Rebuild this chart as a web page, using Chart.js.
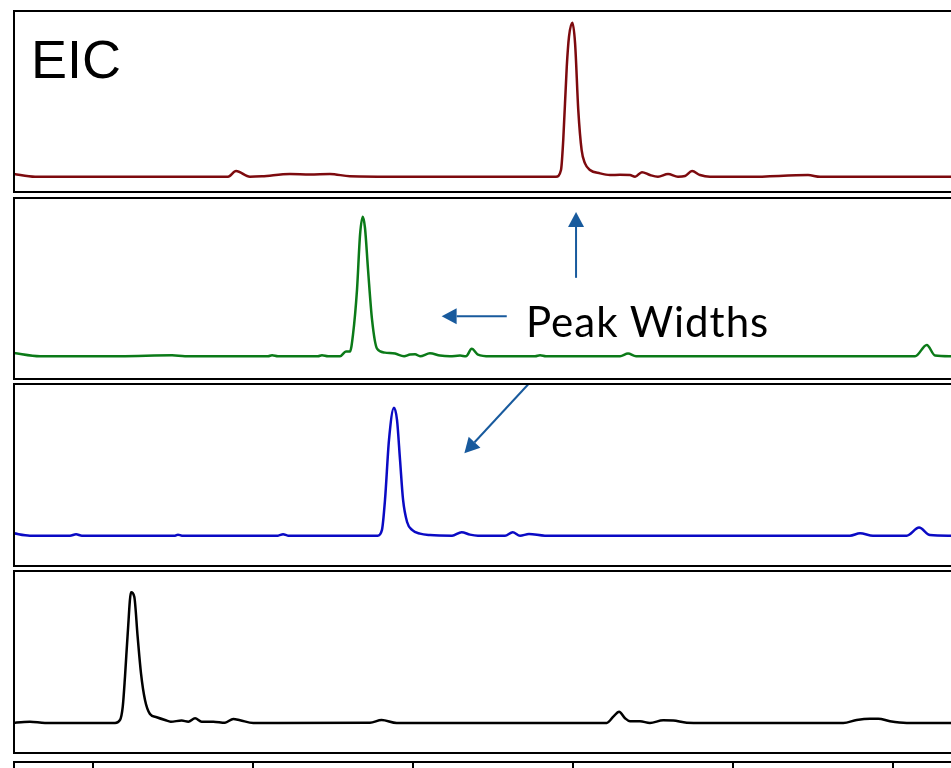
<!DOCTYPE html>
<html>
<head>
<meta charset="utf-8">
<script src="https://cdn.jsdelivr.net/npm/chart.js@4.4.0/dist/chart.umd.min.js"></script>
<style>
  html, body { margin: 0; padding: 0; background: #fff; overflow: hidden; }
  body { width: 951px; height: 768px; position: relative; }
  .panel { position: absolute; left: 10px; }
  .label { position: absolute; white-space: nowrap; line-height: 1; color: #000; }
  #eicLabel { left: 31px; top: 28px; font: 54px "Liberation Sans", Arial, sans-serif; }
  #widthLabel { left: 526px; top: 296px; font: 42px Lato, "Open Sans", sans-serif; letter-spacing: 1px; }
</style>
</head>
<body>
<div class="panel" style="top:7px"><canvas id="eic1" width="945" height="189"></canvas></div>
<div class="panel" style="top:194px"><canvas id="eic2" width="945" height="189"></canvas></div>
<div class="panel" style="top:380px"><canvas id="eic3" width="945" height="190"></canvas></div>
<div class="panel" style="top:567px"><canvas id="eic4" width="945" height="190"></canvas></div>
<div class="panel" style="top:758px"><canvas id="rtAxis" width="945" height="14"></canvas></div>
<div class="label" id="eicLabel">EIC</div>
<div class="label" id="widthLabel">Peak Widths</div>

<script>
// retention time window (min) and tick positions
const rtMin = 0.50625;
const rtMax = 6.3625;
const rtTicks = [1, 2, 3, 4, 5, 6];

// extracted ion chromatograms, intensity normalised to the apex (%)
const eic1Time = [0.5, 0.638, 1.044, 1.669, 1.844, 1.894, 1.981, 2.056, 2.231, 2.356, 2.481, 2.606, 2.919, 3.544, 3.894,
  3.925, 3.939, 3.961, 3.975, 3.996, 4.013, 4.033, 4.054, 4.075, 4.106, 4.169, 4.231, 4.294, 4.356, 4.388, 4.431,
  4.481, 4.531, 4.594, 4.656, 4.700, 4.744, 4.794, 4.856, 5.106, 5.469, 5.544, 6.3625];
const eic1Int = [1.9, 0, 0, 0, 0, 3.7, 0, 0.3, 1.8, 1.5, 1.8, 0.3, 0, 0, 0,
  4.4, 23.8, 71.4, 90.9, 100, 86.6, 43.3, 17.3, 8.7, 4.4, 2.2, 1.1, 1.3, 1.1, 0, 3.0,
  1.1, 0, 1.8, 0, 0.5, 3.7, 1.1, 0, 0, 1.1, 0, 0];

const eic2Time = [0.5, 0.669, 1.169, 1.494, 1.575, 2.094, 2.119, 2.156, 2.406, 2.431, 2.469, 2.544, 2.581, 2.606, 2.625,
  2.650, 2.669, 2.686, 2.700, 2.719, 2.744, 2.775, 2.825, 2.888, 2.944, 2.981, 3.013, 3.044, 3.106, 3.169, 3.231,
  3.294, 3.331, 3.367, 3.406, 3.481, 3.763, 3.794, 3.831, 4.294, 4.344, 4.394, 6.138, 6.211, 6.263, 6.3625];
const eic2Int = [2.4, 0, 0, 0.7, 0, 0, 0.7, 0, 0, 0.7, 0, 0, 3.4, 3.4, 15.5,
  47.6, 87, 100, 91.9, 62, 26.2, 5.5, 2.6, 1.9, 0, 1.2, 1.4, 0, 2.1, 0.5, 0,
  0.5, 0, 5.3, 1.2, 0, 0, 0.7, 0, 0, 1.9, 0, 0, 8.1, 0.5, 0];

const eic3Time = [0.5, 0.606, 0.856, 0.894, 0.931, 1.513, 1.531, 1.556, 2.156, 2.188, 2.219, 2.779, 2.806, 2.825, 2.850,
  2.881, 2.900, 2.919, 2.938, 2.963, 2.994, 3.044, 3.106, 3.244, 3.304, 3.356, 3.406, 3.575, 3.623, 3.669, 3.725,
  3.825, 5.731, 5.794, 5.875, 6.086, 6.163, 6.231, 6.3625];
const eic3Int = [1.9, 0, 0, 1.1, 0, 0, 0.8, 0, 0, 1.1, 0, 0, 4.5, 27.9, 74.8,
  100, 90.4, 59.1, 27.9, 10.7, 4.5, 1.6, 0.5, 0, 2.7, 0.8, 0, 0, 2.7, 0, 1.3,
  0, 0, 1.9, 0, 0, 6.3, 0.5, 0];

const eic4Time = [0.5, 0.569, 0.606, 0.700, 1.138, 1.169, 1.186, 1.200, 1.217, 1.238, 1.258, 1.279, 1.300, 1.325, 1.356,
  1.398, 1.450, 1.486, 1.554, 1.596, 1.638, 1.679, 1.752, 1.825, 1.877, 1.919, 2.002, 2.731, 2.804, 2.898, 4.211,
  4.252, 4.288, 4.325, 4.356, 4.419, 4.481, 4.564, 4.627, 4.711, 4.814, 5.689, 5.773, 5.856, 5.908, 5.981, 6.086, 6.3625];
const eic4Int = [0, 0.8, 1.0, 0, 0, 2.3, 12.5, 35.4, 68.6, 100, 96.6, 66, 38, 17.6, 6.9,
  4.4, 2.3, 1.0, 1.8, 1.0, 3.6, 1.0, 1.0, 0.2, 3.1, 2.1, 0, 0.2, 2.3, 0, 0,
  4.8, 8.6, 3.6, 1.3, 1.3, 0, 2.1, 1.8, 0.2, 0, 0, 2.3, 3.3, 3.3, 1.3, 0, 0];

// "Peak Widths" call-out arrows, [rt, intensity] in the panel they sit in
const widthArrowsEic2 = [
  {from: [4.019, 56.2], to: [4.019, 103.4]},
  {from: [3.586, 28.6], to: [3.179, 28.6]}
];
const widthArrowsEic3 = [
  {from: [3.722, 118.5], to: [3.321, 64.4]}
];

// box around each trace: top, left and bottom edges (right side runs off)
const framePlugin = {
  id: 'frame',
  afterDraw(chart, args, opts) {
    const {ctx, chartArea: a} = chart;
    ctx.save();
    ctx.strokeStyle = '#000';
    ctx.lineWidth = 2;
    ctx.beginPath();
    if (opts.top) { ctx.moveTo(a.left - 1, a.top); ctx.lineTo(chart.width, a.top); }
    if (opts.left) { ctx.moveTo(a.left, a.top); ctx.lineTo(a.left, opts.bottom ? a.bottom : chart.height); }
    if (opts.bottom) { ctx.moveTo(a.left - 1, a.bottom); ctx.lineTo(chart.width, a.bottom); }
    ctx.stroke();
    ctx.restore();
  }
};

const arrowPlugin = {
  id: 'arrows',
  afterDatasetsDraw(chart, args, opts) {
    const items = opts.items || [];
    if (!items.length) return;
    const {ctx, scales: {x, y}} = chart;
    ctx.save();
    ctx.strokeStyle = opts.color;
    ctx.fillStyle = opts.color;
    ctx.lineWidth = 2;
    items.forEach(a => {
      const x0 = x.getPixelForValue(a.from[0]), y0 = y.getPixelForValue(a.from[1]);
      const x1 = x.getPixelForValue(a.to[0]), y1 = y.getPixelForValue(a.to[1]);
      const ang = Math.atan2(y1 - y0, x1 - x0);
      const len = 15, half = 8;
      const bx = x1 - len * Math.cos(ang), by = y1 - len * Math.sin(ang);
      ctx.beginPath();
      ctx.moveTo(x0, y0);
      ctx.lineTo(bx, by);
      ctx.stroke();
      ctx.beginPath();
      ctx.moveTo(x1, y1);
      ctx.lineTo(bx + half * Math.sin(ang), by - half * Math.cos(ang));
      ctx.lineTo(bx - half * Math.sin(ang), by + half * Math.cos(ang));
      ctx.closePath();
      ctx.fill();
    });
    ctx.restore();
  }
};

const drawEic = (id, time, intensity, color, yMin, yMax, arrows) => {
  const ctx = document.getElementById(id).getContext('2d');
  new Chart(ctx, {
    type: 'line',
    data: {
      datasets: [{
        data: time.map((t, i) => ({x: t, y: intensity[i]})),
        borderColor: color,
        borderWidth: 2.5,
        pointRadius: 0,
        cubicInterpolationMode: 'monotone',
        fill: false
      }]
    },
    options: {
      responsive: false,
      animation: false,
      events: [],
      layout: {padding: {left: 4, right: 4, top: 4, bottom: 4}},
      scales: {
        x: {type: 'linear', display: false, min: rtMin, max: rtMax},
        y: {display: false, min: yMin, max: yMax}
      },
      plugins: {
        legend: {display: false},
        tooltip: {enabled: false},
        frame: {top: true, left: true, bottom: true},
        arrows: {items: arrows || [], color: '#185a9d'}
      }
    },
    plugins: [framePlugin, arrowPlugin]
  });
};

drawEic('eic1', eic1Time, eic1Int, '#7d0a0e', -9.9, 107.6);
drawEic('eic2', eic2Time, eic2Int, '#0b7a18', -16.3, 113.4, widthArrowsEic2);
drawEic('eic3', eic3Time, eic3Int, '#0a0ac4', -23.7, 118.5, widthArrowsEic3);
drawEic('eic4', eic4Time, eic4Int, '#000000', -23, 116.3);

// shared retention-time axis: ticks hang down from the top line
new Chart(document.getElementById('rtAxis').getContext('2d'), {
  type: 'line',
  data: {datasets: []},
  options: {
    responsive: false,
    animation: false,
    events: [],
    layout: {padding: {left: 4, right: 4, top: 4, bottom: 0}},
    scales: {
      x: {
        type: 'linear', min: rtMin, max: rtMax,
        afterBuildTicks: axis => { axis.ticks = rtTicks.map(v => ({value: v})); },
        ticks: {display: false},
        grid: {color: '#000', lineWidth: 2, drawTicks: false},
        border: {display: false}
      },
      y: {display: false}
    },
    plugins: {
      legend: {display: false},
      tooltip: {enabled: false},
      frame: {top: true, left: true, bottom: false}
    }
  },
  plugins: [framePlugin]
});
</script>
</body>
</html>
